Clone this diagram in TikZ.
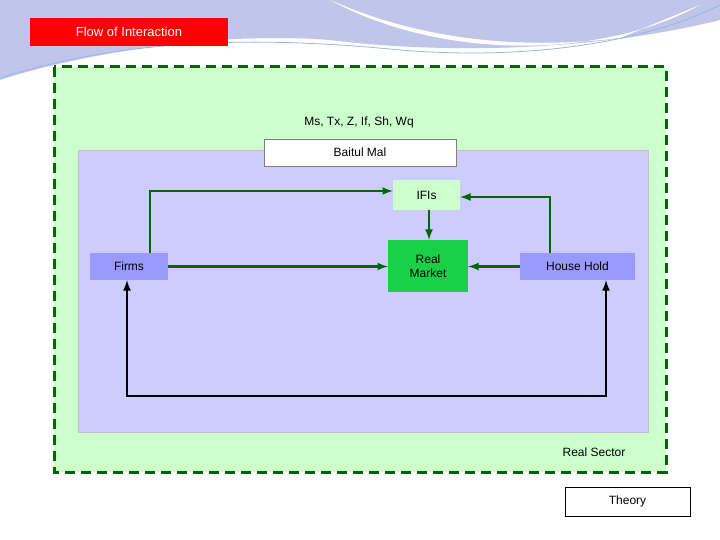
\documentclass[tikz,border=0pt]{standalone}
\usepackage{fontspec}
\setmainfont{Liberation Sans}
\begin{document}
\begin{tikzpicture}[x=1pt,y=-1pt,
  box/.style={draw=none,minimum height=27pt,inner sep=0pt,font=\fontsize{12}{14}\selectfont},
  garr/.style={draw=green!40!black,line width=2.5pt,-latex},
  barr/.style={draw=black,line width=2.5pt,latex-latex}]
\useasboundingbox (0,0) rectangle (720,540);
\fill[white] (0,0) rectangle (720,540);
% background swoosh
\fill[cyan!35!blue!25] (0,0) -- (720,0) -- (720,20) .. controls (600,50) and (450,55) .. (330,40) .. controls (200,30) and (60,60) .. (0,80) -- cycle;
\fill[white] (330,0) .. controls (420,40) and (520,50) .. (620,38) -- (700,5) .. controls (600,60) and (440,60) .. (330,0) -- cycle;
\draw[cyan!50!blue!40,line width=0.8pt] (0,78) .. controls (120,40) and (250,35) .. (400,50) .. controls (520,60) and (640,45) .. (720,5);
\node[box,fill=red,text=white,minimum width=198pt,minimum height=28pt,font=\fontsize{13}{15}\selectfont] (title) at (129,32) {Flow of Interaction};
% containers
\draw[draw=green!40!black,fill=green!20,line width=3pt,dash pattern=on 10pt off 6pt] (54,67) rectangle (666,472);
\node[draw=blue!20!gray!40,fill=blue!20,minimum width=570pt,minimum height=282pt,inner sep=0pt] (sector) at (363,291) {};
\node[font=\fontsize{12}{14}\selectfont] (vars) at (359,122) {Ms, Tx, Z, If, Sh, Wq};
\node[box,draw=gray,fill=white,minimum width=192pt] (mal) at (360,152.5) {Baitul Mal};
\node[box,fill=green!20,minimum width=67pt,minimum height=30pt] (ifis) at (426.5,195) {IFIs};
\node[box,fill=green!60!teal!90,minimum width=80pt,minimum height=52pt,align=center] (rm) at (428,266) {Real\\Market};
\node[box,fill=blue!40,minimum width=78pt] (firms) at (129,266.5) {Firms};
\node[box,fill=blue!40,minimum width=115pt] (hh) at (577.5,266.5) {House Hold};
\node[font=\fontsize{12}{14}\selectfont] (rs) at (594,452) {Real Sector};
\node[box,draw=black,fill=white,minimum width=125pt,minimum height=29pt] (theory) at (627.5,501.5) {Theory};
% arrows
\draw[garr] (firms.north -| 150,0) |- (ifis.west |- 0,191);
\draw[garr] (firms.east) -- (rm.west |- firms.east);
\draw[garr] (ifis.south -| 429,0) -- (rm.north -| 429,0);
\draw[garr] (hh.north -| 550,0) |- (ifis.east |- 0,197);
\draw[garr] (hh.west) -- (rm.east |- hh.west);
\draw[barr] (firms.south -| 127,0) |- (0,396 -| 606,0) coordinate (bc) -- (hh.south -| 606,0);
\end{tikzpicture}
\end{document}
